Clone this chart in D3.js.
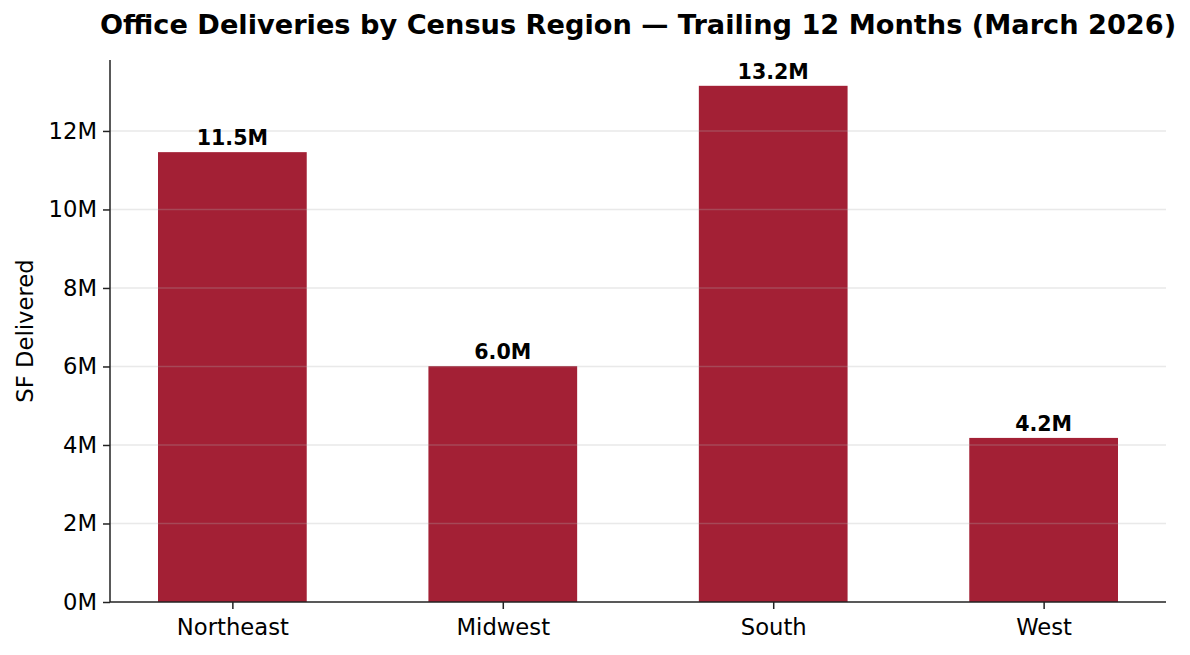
<!DOCTYPE html>
<html>
<head>
<meta charset="utf-8">
<script src="https://cdn.jsdelivr.net/npm/d3@7"></script>
<style>
    body { margin: 0; background: #fff; }
    text { font-family: "DejaVu Sans", sans-serif; fill: #000; }
</style>
</head>
<body>
<div id="chart"></div>
<script>
// data
const regions = ["Northeast", "Midwest", "South", "West"];
const delivered = [11.46, 6.01, 13.15, 4.18];   // millions of SF
const yTicks = [0, 2, 4, 6, 8, 10, 12];

const W = 1190, H = 655;
const margin = {top: 60, right: 24, bottom: 53, left: 110};
const width = W - margin.left - margin.right;
const height = H - margin.top - margin.bottom;
const barColor = "#a32035";
const barWidth = 0.55;

const svg = d3.select("#chart").append("svg")
    .attr("width", W)
    .attr("height", H);

const g = svg.append("g")
    .attr("transform", `translate(${margin.left},${margin.top})`);

// matplotlib style 5% margins around the bars
const xPad = (regions.length - 1 + barWidth) * 0.05;
const x = d3.scaleLinear()
    .domain([-barWidth / 2 - xPad, regions.length - 1 + barWidth / 2 + xPad])
    .range([0, width]);

const y = d3.scaleLinear()
    .domain([0, d3.max(delivered) * 1.05])
    .range([height, 0]);

// bars
g.selectAll(".bar")
    .data(delivered)
    .enter().append("rect")
    .attr("class", "bar")
    .attr("x", (d, i) => x(i - barWidth / 2))
    .attr("width", (d, i) => x(i + barWidth / 2) - x(i - barWidth / 2))
    .attr("y", d => y(d))
    .attr("height", d => y(0) - y(d))
    .attr("fill", barColor);

// grid drawn over the bars, faint
g.selectAll(".grid")
    .data(yTicks.filter(t => t > 0))
    .enter().append("line")
    .attr("class", "grid")
    .attr("x1", 0)
    .attr("x2", width)
    .attr("y1", d => y(d))
    .attr("y2", d => y(d))
    .attr("stroke", "#b0b0b0")
    .attr("stroke-opacity", 0.28)
    .attr("stroke-width", 1.6);

// value labels
g.selectAll(".val")
    .data(delivered)
    .enter().append("text")
    .attr("class", "val")
    .attr("x", (d, i) => x(i))
    .attr("y", d => y(d) - 7)
    .attr("text-anchor", "middle")
    .style("font-size", "20.6px")
    .style("font-weight", "bold")
    .text(d => d.toFixed(1) + "M");

// axes
const xAxis = d3.axisBottom(x)
    .tickValues(d3.range(regions.length))
    .tickFormat(i => regions[i])
    .tickSize(7)
    .tickPadding(10);

const yAxis = d3.axisLeft(y)
    .tickValues(yTicks)
    .tickFormat(d => d + "M")
    .tickSize(7)
    .tickPadding(6);

const gx = g.append("g")
    .attr("transform", `translate(0,${height})`)
    .call(xAxis);

const gy = g.append("g")
    .call(yAxis);

[gx, gy].forEach(a => {
    a.select(".domain").attr("stroke", "#222").attr("stroke-width", 1.5);
    a.selectAll(".tick line").attr("stroke", "#222").attr("stroke-width", 1.5);
    a.selectAll(".tick text").style("font-size", "22.7px").attr("fill", "#000")
        .style("font-family", "'DejaVu Sans', sans-serif");
});
// flatten the domain ends (no outer ticks in the reference)
gx.select(".domain").attr("d", `M0,0H${width}`);
gy.select(".domain").attr("d", `M0,${height}V0`);

// axis label
svg.append("text")
    .attr("transform", `translate(25,${margin.top + height / 2}) rotate(-90)`)
    .attr("text-anchor", "middle")
    .attr("dominant-baseline", "central")
    .style("font-size", "22.7px")
    .text("SF Delivered");

// title
svg.append("text")
    .attr("x", margin.left + width / 2)
    .attr("y", 34)
    .attr("text-anchor", "middle")
    .style("font-size", "27.2px")
    .style("font-weight", "bold")
    .text("Office Deliveries by Census Region \u2014 Trailing 12 Months (March 2026)");
</script>
</body>
</html>
